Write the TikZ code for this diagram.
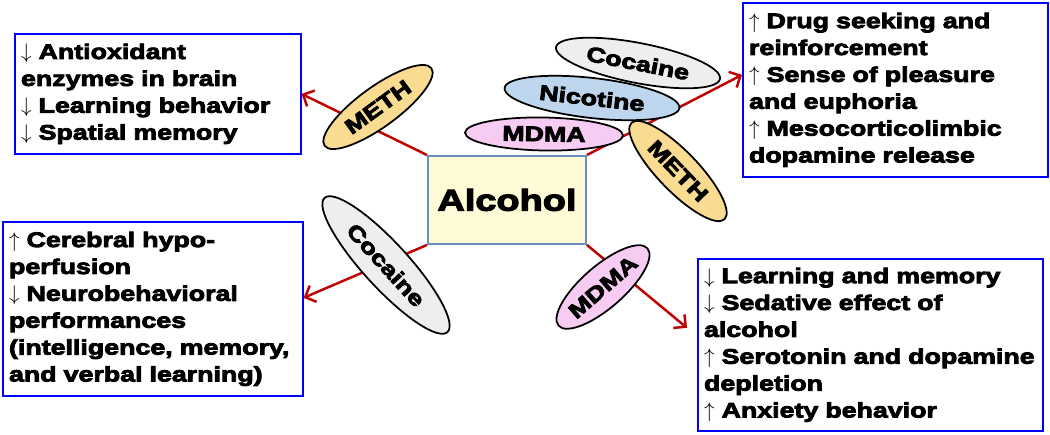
\documentclass[tikz,border=0pt]{standalone}
\usepackage{fontspec}
\setmainfont{Liberation Sans}[BoldFeatures={FakeStretch=1.27,FakeBold=4}]
\usepackage{tikz}
\usetikzlibrary{positioning,arrows.meta,shapes.geometric,calc}
\definecolor{arrowred}{HTML}{C00000}
\definecolor{boxblue}{HTML}{0000FF}
\definecolor{alcfill}{HTML}{FFFBD7}
\definecolor{alcborder}{HTML}{6A8FBF}
\definecolor{methfill}{HTML}{F9DC92}
\definecolor{mdmafill}{HTML}{F6CCF3}
\definecolor{nicfill}{HTML}{BDD6EE}
\definecolor{cocfill}{HTML}{EEEEEE}
\newcommand\uparr{$\uparrow$}
\newcommand\dnarr{$\downarrow$}
\tikzset{
  effect/.style={draw=boxblue, line width=1pt, align=left, anchor=north west,
    inner xsep=3.5pt, inner ysep=0pt, font=\bfseries\fontsize{12}{15.3}\selectfont},
  drug/.style={ellipse, draw, line width=1pt, inner sep=0pt,
    font=\bfseries\fontsize{12}{14}\selectfont},
  conn/.style={draw=arrowred, line width=1.4pt, -{Straight Barb[length=5pt,width=10pt]}}
}

\begin{document}
\begin{tikzpicture}[x=0.02cm, y=0.02cm]
  % 1 unit = 1 px of the 1050 x 434 frame, y upwards
  \useasboundingbox (0,0) rectangle (1050,434);
  % centre box
  \node[draw=alcborder, fill=alcfill, line width=1.1pt, anchor=north west,
    minimum width=3.16cm, minimum height=1.76cm,
    font=\bfseries\fontsize{17}{20}\selectfont] (alc) at (427,279) {Alcohol};
  % effect boxes
  \node[effect, text width=5.47cm, minimum height=2.4cm] (tl) at (14,401)
    {\dnarr\ Antioxidant\\enzymes in brain\\\dnarr\ Learning behavior\\\dnarr\ Spatial memory};
  \node[effect, text width=5.85cm, minimum height=3.48cm] (tr) at (742,432)
    {\uparr\ Drug seeking and\\reinforcement\\\uparr\ Sense of pleasure\\and euphoria\\\uparr\ Mesocorticolimbic\\dopamine release};
  \node[effect, text width=5.75cm, minimum height=3.48cm] (bl) at (2,213)
    {\uparr\ Cerebral hypo-\\perfusion\\\dnarr\ Neurobehavioral\\performances\\(intelligence, memory,\\and verbal learning)};
  \node[effect, text width=6.65cm, minimum height=3.44cm] (br) at (697,176)
    {\dnarr\ Learning and memory\\\dnarr\ Sedative effect of\\alcohol\\\uparr\ Serotonin and dopamine\\depletion\\\uparr\ Anxiety behavior};
  % connectors
  \draw[conn] (alc.north west) -- (tl.east);
  \draw[conn] (alc.north east) -- ([yshift=0.3cm]tr.west);
  \draw[conn] (alc.south west) -- ([yshift=0.22cm]bl.east);
  \draw[conn] (alc.south east) -- ([xshift=-0.2cm,yshift=0.34cm]br.west);
  % drugs on the connectors
  \node[drug, fill=methfill, rotate=36, minimum width=2.64cm, minimum height=0.8cm] (methL) at (378,327) {METH};
  \node[drug, fill=cocfill, rotate=-47.5, minimum width=3.64cm, minimum height=0.9cm] (cocL) at (386,169) {Cocaine};
  \node[drug, fill=mdmafill, rotate=41, minimum width=2.3cm, minimum height=0.84cm] (mdmaR) at (603,147) {MDMA};
  \node[drug, fill=cocfill, rotate=-11, minimum width=3.34cm, minimum height=0.8cm] (cocR) at (638,371) {Cocaine};
  \node[drug, fill=nicfill, rotate=-6.5, minimum width=3.52cm, minimum height=0.8cm] (nicR) at (592,336) {Nicotine};
  \node[drug, fill=mdmafill, rotate=-1, minimum width=3.16cm, minimum height=0.66cm] (mdmaT) at (544,300) {MDMA};
  \node[drug, fill=methfill, rotate=-46, minimum width=2.68cm, minimum height=0.8cm] (methR) at (678,263) {METH};
\end{tikzpicture}
\end{document}
